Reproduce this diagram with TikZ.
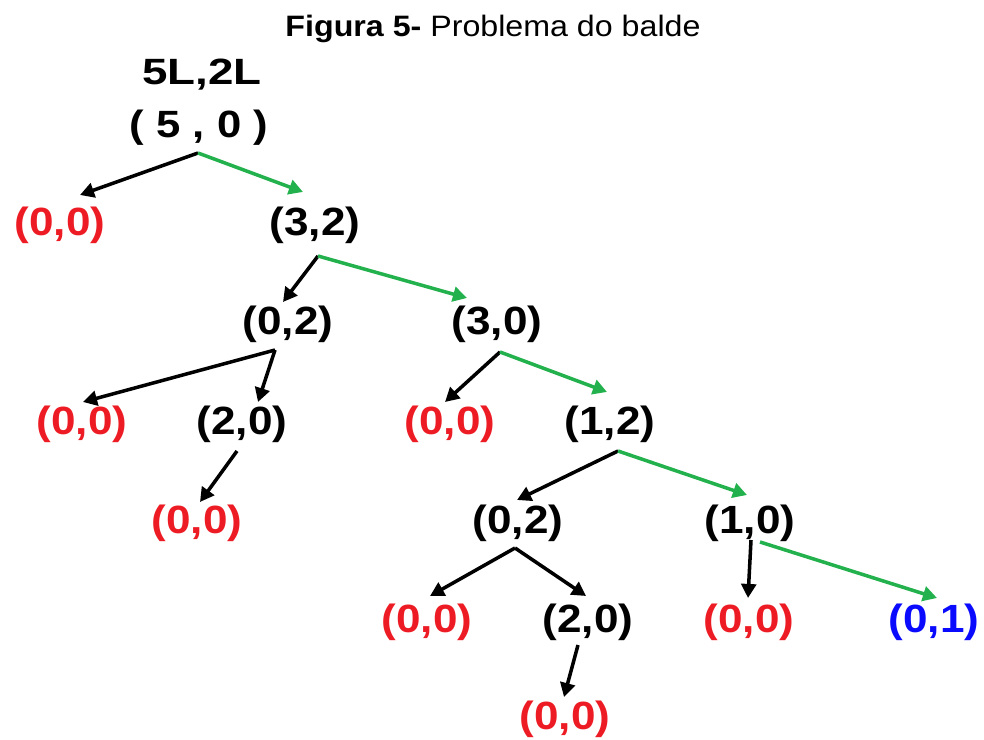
\documentclass[tikz,border=0pt]{standalone}
\usepackage{fontspec}
\setmainfont{Liberation Sans}
\newfontfamily\statefont[FakeStretch=1.12]{Liberation Sans}
\newfontfamily\rootfont[FakeStretch=1.15]{Liberation Sans}
\newfontfamily\capsfont[FakeStretch=1.25]{Liberation Sans}
\newfontfamily\titlefont[FakeStretch=1.09]{Liberation Sans}
\usepackage{xcolor}
\usepackage{tikz}
\usetikzlibrary{arrows.meta,calc}
\definecolor{deadred}{HTML}{ED1C24}
\definecolor{pathgreen}{HTML}{22B14C}
\definecolor{goalblue}{HTML}{0A0AFF}

\begin{document}
\begin{tikzpicture}[
  x=0.025cm, y=-0.025cm,
  state/.style={
    inner sep=0pt, text=black,
    font=\statefont\bfseries\fontsize{28}{30}\selectfont
  },
  dead/.style={state, text=deadred},
  goal/.style={state, text=goalblue},
  rootlbl/.style={
    inner sep=0pt,
    font=\rootfont\bfseries\fontsize{27}{30}\selectfont
  },
  capslbl/.style={
    inner sep=0pt,
    font=\capsfont\bfseries\fontsize{26}{28}\selectfont
  },
  arr/.style={-{Triangle[length=10pt,width=10.5pt]}, line width=2.5pt, black},
  okarr/.style={arr, pathgreen}
]
\useasboundingbox (0,0) rectangle (984,740);

% Title
\node[font=\titlefont\fontsize{21}{24}\selectfont] (title) at (493,29)
  {\textbf{Figura 5-} Problema do balde};

% Root
\node[capslbl] (caps) at (202,75) {5L,2L};
\node[rootlbl] (root) at (199,128) {( 5 , 0 )};

% States, row by row
\node[dead]  (a) at (60,225)  {(0,0)};
\node[state] (b) at (315,225) {(3,2)};
\node[state] (c) at (288,324) {(0,2)};
\node[state] (d) at (497,324) {(3,0)};
\node[dead]  (e) at (82,424)  {(0,0)};
\node[state] (f) at (242,424) {(2,0)};
\node[dead]  (g) at (450,424) {(0,0)};
\node[state] (h) at (610,424) {(1,2)};
\node[dead]  (i) at (197,523) {(0,0)};
\node[state] (j) at (518,523) {(0,2)};
\node[state] (k) at (750,523) {(1,0)};
\node[dead]  (l) at (427,622) {(0,0)};
\node[state] (m) at (588,622) {(2,0)};
\node[dead]  (n) at (749,622) {(0,0)};
\node[goal]  (o) at (934,622) {(0,1)};
\node[dead]  (p) at (565,719) {(0,0)};

% Branches (green = path to the goal)
\draw[arr]   ($(root)+(-1,25)$) -- ($(a)+(20,-30)$);
\draw[okarr] ($(root)+(-1,25)$) -- ($(b)+(-12,-33)$);
\draw[arr]   ($(b)+(3,31)$) -- ($(c)+(-5,-22)$);
\draw[okarr] ($(b)+(3,31)$) -- ($(d)+(-30,-26)$);
\draw[arr]   ($(c)+(-13,26)$) -- ($(e)+(1,-22)$);
\draw[arr]   ($(c)+(-13,26)$) -- ($(f)+(16,-22)$);
\draw[arr]   ($(d)+(3,28)$) -- ($(g)+(-5,-22)$);
\draw[okarr] ($(d)+(3,28)$) -- ($(h)+(-3,-32)$);
\draw[arr]   ($(f)+(-5,27)$) -- ($(i)+(3,-21)$);
\draw[arr]   ($(h)+(8,27)$) -- ($(j)+(-1,-23)$);
\draw[okarr] ($(h)+(8,27)$) -- ($(k)+(-3,-28)$);
\draw[arr]   ($(j)+(-3,25)$) -- ($(l)+(3,-26)$);
\draw[arr]   ($(j)+(-3,25)$) -- ($(m)+(-2,-26)$);
\draw[arr]   ($(k)+(1,17)$) -- ($(n)+(-1,-24)$);
\draw[okarr] ($(k)+(10,19)$) -- ($(o)+(3,-24)$);
\draw[arr]   ($(m)+(-10,23)$) -- ($(p)+(-1,-22)$);

\end{tikzpicture}
\end{document}
